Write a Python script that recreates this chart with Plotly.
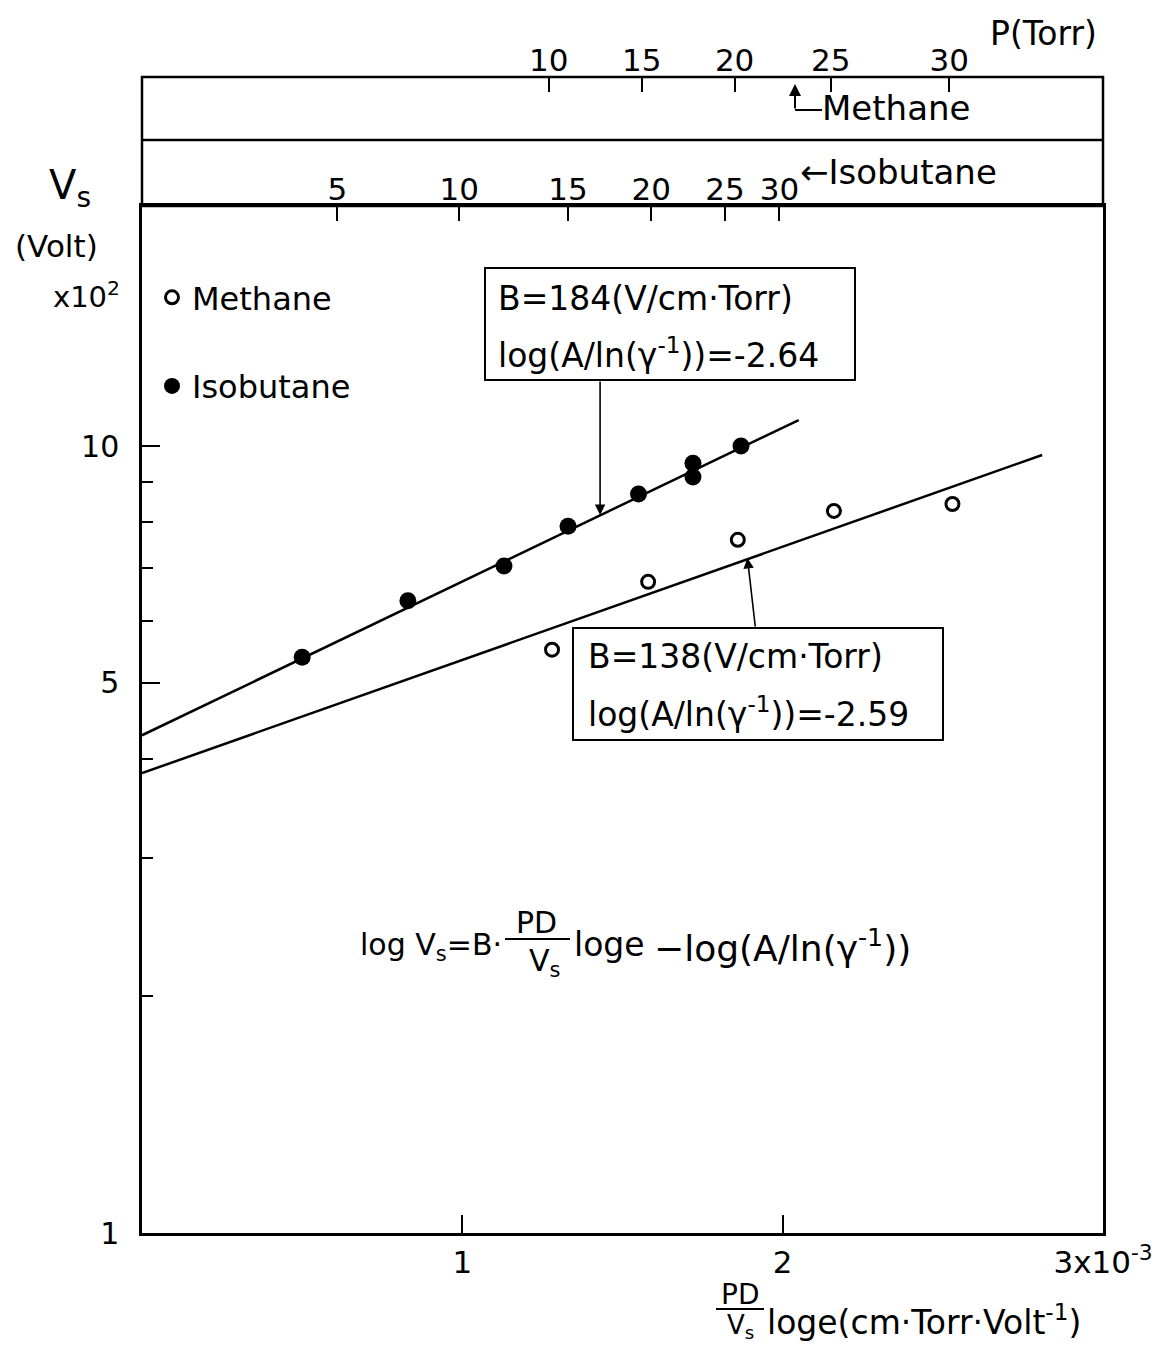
import plotly.graph_objects as go

# ---------------- data ----------------
# x: PD/Vs * log e  (units of 1e-3 cm·Torr·Volt^-1), y: Vs (x10^2 Volt)
iso_x = [0.50, 0.83, 1.13, 1.33, 1.55, 1.72, 1.72, 1.87]
iso_v = [5.39, 6.36, 7.04, 7.91, 8.69, 9.13, 9.51, 10.0]
met_x = [1.28, 1.58, 1.86, 2.16, 2.53]
met_v = [5.51, 6.72, 7.60, 8.27, 8.44]

iso_fit_x = [0.0, 2.05]
iso_fit_v = [4.29, 10.79]
met_fit_x = [0.0, 2.81]
met_fit_v = [3.84, 9.74]

x_tickvals = [1, 2, 3]
x_ticktext = ["1", "2", "3x10<sup>-3</sup>"]
y_tickvals = [1, 5, 10]
y_ticktext = ["1", "5", "10"]
y_minor = [2, 3, 4, 6, 7, 8, 9]

iso_p_labels = ["5", "10", "15", "20", "25", "30"]
iso_p_x = [0.61, 0.99, 1.33, 1.59, 1.82, 1.99]
met_p_labels = ["10", "15", "20", "25", "30"]
met_p_x = [1.27, 1.56, 1.85, 2.15, 2.52]

# ---------------- layout helpers (page pixel -> paper) ----------------
OFF = 8                      # default page body margin
W, H = 1175 - 2 * OFF, 1354 - 2 * OFF
L, R, T, B = 142, 1103, 77, 1233   # plot-area edges in page pixels


def px(xp):
    return (xp - L) / (R - L)


def py(yp):
    return (B - yp) / (B - T)


FONT = "DejaVu Sans"
BLACK = "black"

fig = go.Figure()

# fitted lines
fig.add_trace(go.Scatter(x=iso_fit_x, y=iso_fit_v, mode="lines",
                         line=dict(color=BLACK, width=2.5), showlegend=False, hoverinfo="skip"))
fig.add_trace(go.Scatter(x=met_fit_x, y=met_fit_v, mode="lines",
                         line=dict(color=BLACK, width=2.5), showlegend=False, hoverinfo="skip"))
# data points
fig.add_trace(go.Scatter(x=met_x, y=met_v, mode="markers", name="Methane", legendgroup="m",
                         marker=dict(symbol="circle-open", size=13, color=BLACK, line=dict(width=3, color=BLACK))))
fig.add_trace(go.Scatter(x=iso_x, y=iso_v, mode="markers", name="Isobutane", legendgroup="i",
                         marker=dict(symbol="circle", size=17, color=BLACK)))
# anchor traces for the pressure axes
fig.add_trace(go.Scatter(x=[], y=[], xaxis="x2", yaxis="y", showlegend=False, hoverinfo="skip"))
fig.add_trace(go.Scatter(x=[], y=[], xaxis="x3", yaxis="y", showlegend=False, hoverinfo="skip"))

main_top = py(206)
mid_line = py(140)

fig.update_layout(
    width=W, height=H,
    margin=dict(l=L - OFF, r=W - (R - OFF), t=T - OFF, b=H - (B - OFF), pad=0),
    paper_bgcolor="white", plot_bgcolor="white",
    font=dict(family=FONT, color=BLACK, size=30),
    showlegend=True,
    legend=dict(x=px(152), y=py(270), xanchor="left", yanchor="top",
                font=dict(size=32, family=FONT), bgcolor="rgba(0,0,0,0)",
                tracegroupgap=44, itemwidth=30, traceorder="grouped"),
    xaxis=dict(range=[0, 3], tickvals=x_tickvals, ticktext=x_ticktext,
               ticks="inside", ticklen=18, tickwidth=2, tickcolor=BLACK,
               showline=True, linewidth=2.5, linecolor=BLACK, mirror=True,
               showgrid=False, zeroline=False, tickfont=dict(size=31)),
    yaxis=dict(type="log", range=[0, (B - 206) / 787], domain=[0, main_top],
               tickvals=y_tickvals, ticktext=y_ticktext,
               ticks="inside", ticklen=18, tickwidth=2, tickcolor=BLACK,
               minor=dict(tickvals=y_minor, ticks="inside", ticklen=11, tickwidth=2, tickcolor=BLACK),
               showline=True, linewidth=2.5, linecolor=BLACK, mirror=True,
               showgrid=False, zeroline=False, tickfont=dict(size=30), ticklabelstandoff=14),
    xaxis2=dict(overlaying="x", anchor="free", position=main_top, side="top",
                range=[0, 3], tickvals=iso_p_x, ticktext=iso_p_labels,
                ticks="inside", ticklen=14, tickwidth=2, tickcolor=BLACK,
                showline=False, showgrid=False, zeroline=False, tickfont=dict(size=31)),
    xaxis3=dict(overlaying="x", anchor="free", position=1.0, side="top",
                range=[0, 3], tickvals=met_p_x, ticktext=met_p_labels,
                ticks="inside", ticklen=14, tickwidth=2, tickcolor=BLACK,
                showline=False, showgrid=False, zeroline=False, tickfont=dict(size=31)),
)

shapes = []
# top pressure bands
shapes.append(dict(type="rect", xref="paper", yref="paper", x0=0, x1=1, y0=main_top, y1=1,
                   line=dict(color=BLACK, width=2.5)))
shapes.append(dict(type="line", xref="paper", yref="paper", x0=0, x1=1, y0=mid_line, y1=mid_line,
                   line=dict(color=BLACK, width=2.5)))
# annotation boxes
shapes.append(dict(type="rect", xref="paper", yref="paper", x0=px(485), x1=px(855), y0=py(380), y1=py(268),
                   line=dict(color=BLACK, width=2)))
shapes.append(dict(type="rect", xref="paper", yref="paper", x0=px(573), x1=px(943), y0=py(740), y1=py(628),
                   line=dict(color=BLACK, width=2)))
# methane pointer elbow
shapes.append(dict(type="line", xref="paper", yref="paper", x0=px(795), x1=px(822), y0=py(110), y1=py(110),
                   line=dict(color=BLACK, width=2)))
# fraction bars
shapes.append(dict(type="line", xref="paper", yref="paper", x0=px(505), x1=px(570), y0=py(939), y1=py(939),
                   line=dict(color=BLACK, width=2)))
shapes.append(dict(type="line", xref="paper", yref="paper", x0=px(716), x1=px(764), y0=py(1309), y1=py(1309),
                   line=dict(color=BLACK, width=2)))
fig.update_layout(shapes=shapes)


def ann(text, xp, yp, size, xanchor="center", yanchor="middle"):
    fig.add_annotation(text=text, x=px(xp), y=py(yp), xref="paper", yref="paper",
                       xanchor=xanchor, yanchor=yanchor, showarrow=False,
                       font=dict(size=size, family=FONT, color=BLACK))


# axis labels
ann("V<sub>s</sub>", 70, 188, 40)
ann("(Volt)", 56, 246, 31)
ann("x10<sup>2</sup>", 86, 295, 29)
ann("P(Torr)", 1043, 33, 33)
ann("Methane", 820, 108, 34, xanchor="left")
ann("\u2190Isobutane", 798, 172, 34, xanchor="left")

# fit boxes
ann("B=184(V/cm\u00b7Torr)", 496, 298, 33, xanchor="left")
ann("log(A/ln(\u03b3<sup>-1</sup>))=-2.64", 496, 354, 33, xanchor="left")
ann("B=138(V/cm\u00b7Torr)", 586, 656, 33, xanchor="left")
ann("log(A/ln(\u03b3<sup>-1</sup>))=-2.59", 586, 712, 33, xanchor="left")

# formula
ann("log V<sub>s</sub>=B\u00b7", 504, 946, 30, xanchor="right")
ann("PD", 536, 922, 30)
ann("V<sub>s</sub>", 544, 962, 30)
ann("loge", 572, 944, 33, xanchor="left")
ann("\u2212log(A/ln(\u03b3<sup>-1</sup>))", 652, 946, 36, xanchor="left")

# x title
ann("PD", 740, 1294, 28)
ann("V<sub>s</sub>", 740, 1345, 26, yanchor="bottom")
ann("loge(cm\u00b7Torr\u00b7Volt<sup>-1</sup>)", 765, 1320, 33, xanchor="left")

# arrows to fitted lines
fig.add_annotation(x=1.43, y=(B - 515) / 787, xref="x", yref="y", text="", showarrow=True,
                   ax=0, ay=-135, arrowhead=2, arrowsize=1.3, arrowwidth=1.6, arrowcolor=BLACK)
fig.add_annotation(x=1.89, y=(B - 558) / 787, xref="x", yref="y", text="", showarrow=True,
                   ax=8, ay=70, arrowhead=2, arrowsize=1.3, arrowwidth=1.6, arrowcolor=BLACK)
# methane pointer arrow in top band
fig.add_annotation(x=px(795), y=py(84), xref="paper", yref="paper", text="", showarrow=True,
                   ax=0, ay=26, arrowhead=2, arrowsize=1.2, arrowwidth=2, arrowcolor=BLACK)

fig.write_html("out.html")
